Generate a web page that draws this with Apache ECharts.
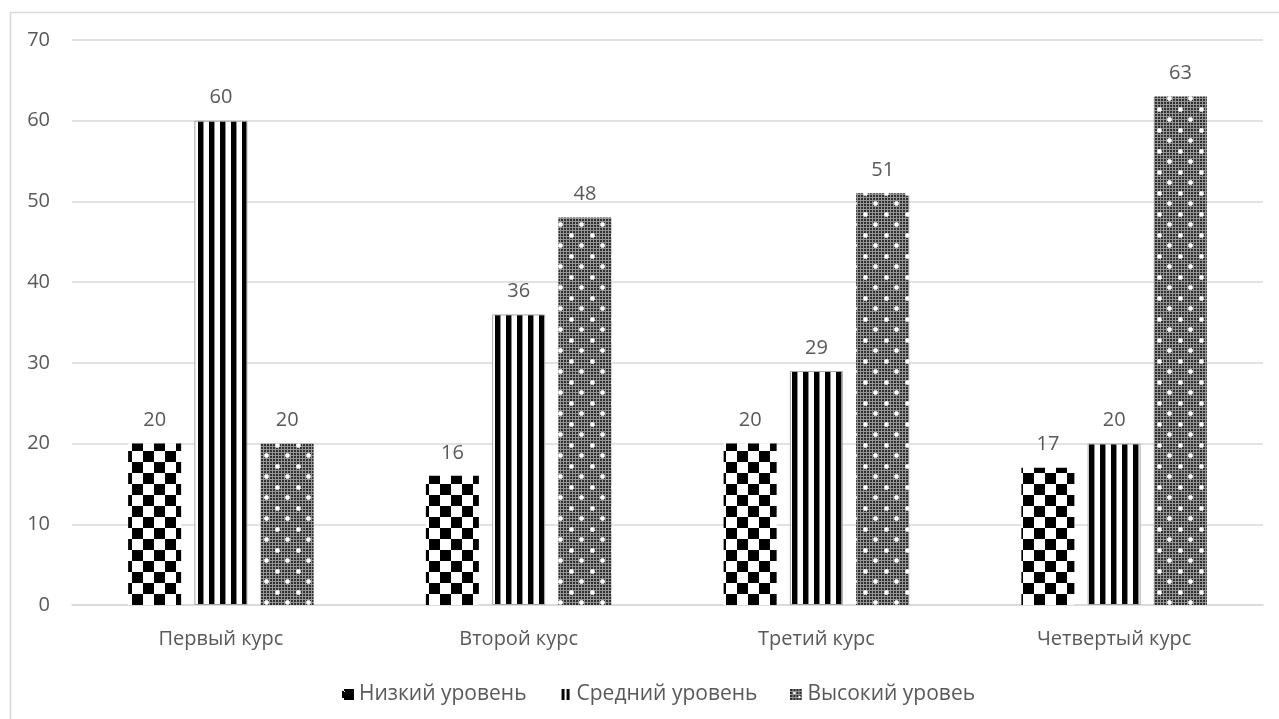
<!DOCTYPE html>
<html>
<head>
<meta charset="utf-8">
<style>
  html, body { margin: 0; padding: 0; background: #fff; }
  #chart { width: 1279px; height: 719px; }
</style>
<script src="https://cdn.jsdelivr.net/npm/echarts@6/dist/echarts.min.js"></script>
</head>
<body>
<div id="chart"></div>
<script>
// Survey results by course year
const categories = ['Первый курс', 'Второй курс', 'Третий курс', 'Четвертый курс'];
const seriesNames = ['Низкий уровень', 'Средний уровень', 'Высокий уровеь'];
const lowLevel = [20, 16, 20, 17];
const midLevel = [60, 36, 29, 20];
const highLevel = [20, 48, 51, 63];
const yTicks = { min: 0, max: 70, step: 10 };

const TEXT = '#595959';
const GRID = '#d9d9d9';
const FONT = '"Open Sans", "Noto Sans", sans-serif';

function makeCanvas(w, h, draw) {
  const c = document.createElement('canvas');
  c.width = w; c.height = h;
  const ctx = c.getContext('2d');
  draw(ctx, w, h);
  return c;
}

// checkerboard fill
function checkerTile(cell) {
  return makeCanvas(cell * 2, cell * 2, (ctx) => {
    ctx.fillStyle = '#fff';
    ctx.fillRect(0, 0, cell * 2, cell * 2);
    ctx.fillStyle = '#000';
    ctx.fillRect(0, 0, cell, cell);
    ctx.fillRect(cell, cell, cell, cell);
  });
}

// vertical stripes fill
function stripeTile(period, dark) {
  return makeCanvas(period, 4, (ctx) => {
    ctx.fillStyle = '#fff';
    ctx.fillRect(0, 0, period, 4);
    ctx.fillStyle = '#000';
    ctx.fillRect(0, 0, dark, 4);
    ctx.fillStyle = '#8c8c8c';
    ctx.fillRect(dark, 0, 1, 4);
  });
}

// fine grey mesh with white sparkle dots
function dottedTile(withDots) {
  const n = 21;
  return makeCanvas(n, n, (ctx) => {
    const img = ctx.createImageData(n, n);
    for (let y = 0; y < n; y++) {
      for (let x = 0; x < n; x++) {
        const dark = (x % 3 !== 2) && (y % 3 !== 2);
        const v = dark ? 48 : 150;
        const i = (y * n + x) * 4;
        img.data[i] = v; img.data[i + 1] = v; img.data[i + 2] = v; img.data[i + 3] = 255;
      }
    }
    ctx.putImageData(img, 0, 0);
    if (withDots) {
      const dots = [[4, 4], [14, 14]];
      dots.forEach(([cx, cy]) => {
        ctx.fillStyle = 'rgba(255,255,255,0.7)';
        ctx.fillRect(cx - 1, cy - 2, 3, 5);
        ctx.fillRect(cx - 2, cy - 1, 5, 3);
        ctx.fillStyle = '#fff';
        ctx.fillRect(cx - 1, cy - 1, 3, 3);
      });
    }
  });
}

// small legend swatches
const iconLow = makeCanvas(12, 11, (ctx) => {
  ctx.fillStyle = '#000';
  ctx.fillRect(0, 0, 12, 11);
  ctx.fillStyle = '#fff';
  ctx.fillRect(0, 0, 2, 2);
  ctx.fillRect(0, 9, 2, 2);
  ctx.fillRect(2, 2, 1, 1);
});
const iconMid = makeCanvas(12, 11, (ctx) => {
  ctx.fillStyle = '#000';
  ctx.fillRect(2, 0, 3, 11);
  ctx.fillRect(7, 0, 3, 11);
});
const iconHigh = makeCanvas(12, 11, (ctx) => {
  ctx.drawImage(dottedTile(false), 0, 0);
  ctx.fillStyle = '#fff';
  ctx.fillRect(3, 3, 2, 2);
  ctx.fillRect(8, 7, 2, 2);
});

const fills = [
  { image: checkerTile(11), repeat: 'repeat' },
  { image: stripeTile(11, 5), repeat: 'repeat' },
  { image: dottedTile(true), repeat: 'repeat' }
];
const icons = [iconLow, iconMid, iconHigh].map(c => 'image://' + c.toDataURL());
const values = [lowLevel, midLevel, highLevel];

const chart = echarts.init(document.getElementById('chart'), null, { renderer: 'canvas' });

const series = seriesNames.map((name, k) => ({
  name,
  type: 'bar',
  data: values[k],
  barWidth: 53,
  barGap: '25%',
  itemStyle: {
    color: fills[k],
    borderColor: k === 1 ? '#a6a6a6' : 'transparent',
    borderWidth: k === 1 ? 1 : 0
  },
  label: {
    show: true,
    position: 'top',
    distance: 13,
    color: TEXT,
    fontFamily: FONT,
    fontSize: 20
  },
  emphasis: { disabled: true }
}));

chart.setOption({
  animation: false,
  backgroundColor: '#fff',
  graphic: [{
    type: 'rect',
    shape: { x: 10.5, y: 12.5, width: 1300, height: 800 },
    style: { fill: 'none', stroke: GRID, lineWidth: 1.5 },
    silent: true
  }],
  grid: { left: 72, right: 16, top: 40, bottom: 114, containLabel: false },
  legend: {
    left: 337,
    top: 679,
    itemWidth: 12,
    itemHeight: 11,
    itemGap: 33,
    textStyle: { color: TEXT, fontFamily: FONT, fontSize: 21 },
    data: seriesNames.map((name, k) => ({ name, icon: icons[k] }))
  },
  xAxis: {
    type: 'category',
    data: categories,
    axisTick: { show: false },
    axisLine: { lineStyle: { color: GRID, width: 1.5 } },
    axisLabel: { color: TEXT, fontFamily: FONT, fontSize: 20, margin: 24 }
  },
  yAxis: {
    type: 'value',
    min: yTicks.min,
    max: yTicks.max,
    interval: yTicks.step,
    axisLine: { show: false },
    axisTick: { show: false },
    splitLine: { lineStyle: { color: GRID, width: 1.5 } },
    axisLabel: { color: TEXT, fontFamily: FONT, fontSize: 20, margin: 22 }
  },
  series
});
</script>
</body>
</html>
